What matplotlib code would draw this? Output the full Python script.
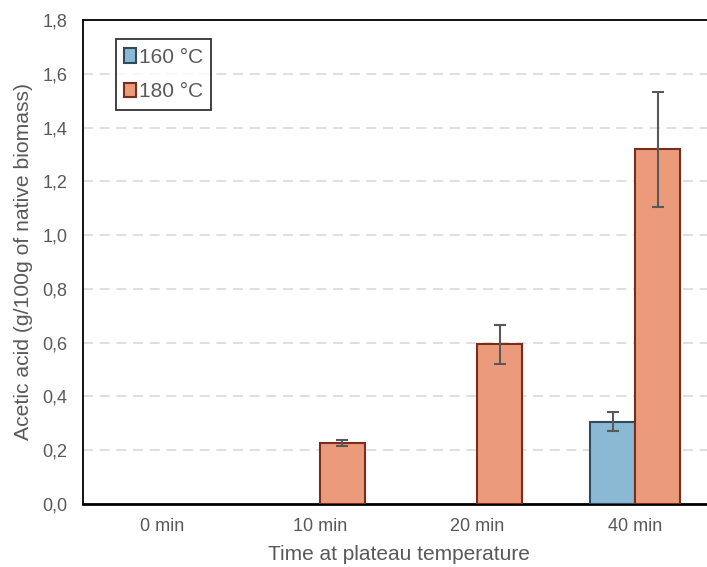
import matplotlib
matplotlib.use("Agg")
import matplotlib.pyplot as plt
import numpy as np
from matplotlib.patches import Patch

plt.rcParams['font.family'] = ['Liberation Sans', 'DejaVu Sans']

# data
times = ['0 min', '10 min', '20 min', '40 min']
acid_160 = [0, 0, 0, 0.306]
err_160 = [0, 0, 0, 0.036]
acid_180 = [0, 0.227, 0.594, 1.319]
err_180 = [0, 0.011, 0.073, 0.215]
show_160 = [False, False, False, True]
show_180 = [False, True, True, True]

fig = plt.figure(figsize=(7.07, 5.67), dpi=100)
ax = fig.add_axes([83/707, 63/567, 1 - 83/707 + 0.01, 484/567])

x = np.arange(len(times))
w = 0.285
gray = '#595959'

for i in range(len(times)):
    if show_160[i]:
        ax.bar(x[i] - w/2, acid_160[i], w, color='#8BB9D4', edgecolor='#2E4A5C', linewidth=1.5, zorder=3)
        ax.errorbar(x[i] - w/2, acid_160[i], yerr=err_160[i], fmt='none', ecolor=gray, elinewidth=1.5, capsize=4, capthick=1.5, zorder=4)
    if show_180[i]:
        ax.bar(x[i] + w/2, acid_180[i], w, color='#EC9A7C', edgecolor='#7A2D1B', linewidth=1.5, zorder=3)
        ax.errorbar(x[i] + w/2, acid_180[i], yerr=err_180[i], fmt='none', ecolor=gray, elinewidth=1.5, capsize=4, capthick=1.5, zorder=4)

ax.set_xlim(-0.5, 3.5)
ax.set_ylim(0, 1.8)
ax.set_xticks(x)
ax.set_xticklabels(times)
yt = np.arange(0, 1.81, 0.2)
ax.set_yticks(yt)
ax.set_yticklabels([f'{v:.1f}'.replace('.', ',') for v in yt])
ax.tick_params(length=0, labelsize=13, colors=gray)
ax.tick_params(axis='y', pad=11)
ax.tick_params(axis='x', pad=10)
ax.yaxis.grid(True, color='#D9D9D9', linestyle=(0, (6, 4)), linewidth=1.2, zorder=0)
ax.set_axisbelow(True)

for s in ['left', 'top']:
    ax.spines[s].set_linewidth(1.3)
ax.spines['bottom'].set_linewidth(2)
ax.spines['right'].set_visible(False)

ax.set_ylabel('Acetic acid (g/100g of native biomass)', fontsize=15.2, color=gray, labelpad=7)
ax.set_xlabel('Time at plateau temperature', fontsize=15, color=gray, labelpad=7)

handles = [Patch(facecolor='#8BB9D4', edgecolor='#2E4A5C', linewidth=1.5, label='160 °C'),
           Patch(facecolor='#EC9A7C', edgecolor='#7A2D1B', linewidth=1.5, label='180 °C')]
leg = ax.legend(handles=handles, loc='upper left', bbox_to_anchor=(0.052, 0.96), fontsize=15,
                frameon=True, fancybox=False, edgecolor='black', handlelength=0.55, handleheight=0.7,
                handletextpad=0.15, labelspacing=0.75, borderpad=0.4, borderaxespad=0)
leg.get_frame().set_linewidth(1.3)
for t in leg.get_texts():
    t.set_color(gray)

fig.savefig('out.png', dpi=100)
